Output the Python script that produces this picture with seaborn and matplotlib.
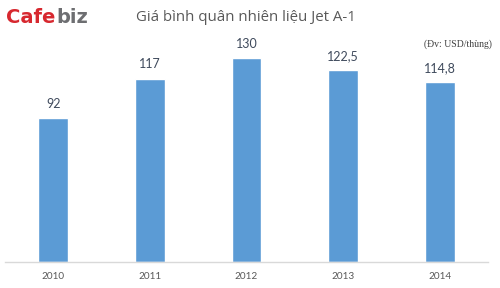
import matplotlib
matplotlib.use("Agg")
import matplotlib.pyplot as plt
import seaborn as sns
import pandas as pd

years = ["2010", "2011", "2012", "2013", "2014"]
prices = [92, 117, 130, 122.5, 114.8]
value_labels = ["92", "117", "130", "122,5", "114,8"]
title = "Giá bình quân nhiên liệu Jet A-1"
unit_note = "(Đv: USD/thùng)"

df = pd.DataFrame({"year": years, "price": prices})

sns.set_theme(style="white")
plt.rcParams['font.family'] = ['Open Sans', 'DejaVu Sans']

fig = plt.figure(figsize=(5.0, 2.88), dpi=100)
ax = fig.add_axes([0.01, 0.0903, 0.966, 0.816])

sns.barplot(data=df, x="year", y="price", color="#5B9BD5", saturation=1,
            width=0.31, ax=ax)
ax.set_xlim(-0.5, 4.5)
ax.set_ylim(0, 150)

ax.bar_label(ax.containers[0], labels=value_labels, padding=6,
             fontsize=9, color="#3F4A5C", family=["Lato", "DejaVu Sans"])

for s in ["top", "left", "right"]:
    ax.spines[s].set_visible(False)
ax.spines["bottom"].set_color("#D9D9D9")
ax.spines["bottom"].set_linewidth(1)
ax.set_yticks([])
ax.set_xlabel("")
ax.set_ylabel("")
ax.tick_params(axis="x", length=0, labelsize=7.2, labelcolor="#595959", pad=7)
for lab in ax.get_xticklabels():
    lab.set_family(["Lato", "DejaVu Sans"])

fig.text(0.492, 0.94, title, ha="center", va="center", fontsize=10.8,
         color="#595959")
fig.text(0.984, 0.845, unit_note, ha="right", va="center", fontsize=7,
         color="#404040", family=["Liberation Serif", "DejaVu Serif"])

# logo
fig.text(0.012, 0.94, "Cafe", ha="left", va="center", fontsize=14,
         fontweight="heavy", color="#D7282F", family=["DejaVu Sans"])
fig.text(0.112, 0.94, "biz", ha="left", va="center", fontsize=14,
         fontweight="heavy", color="#6D6E71", family=["DejaVu Sans"])

fig.savefig("out.png", dpi=100)
